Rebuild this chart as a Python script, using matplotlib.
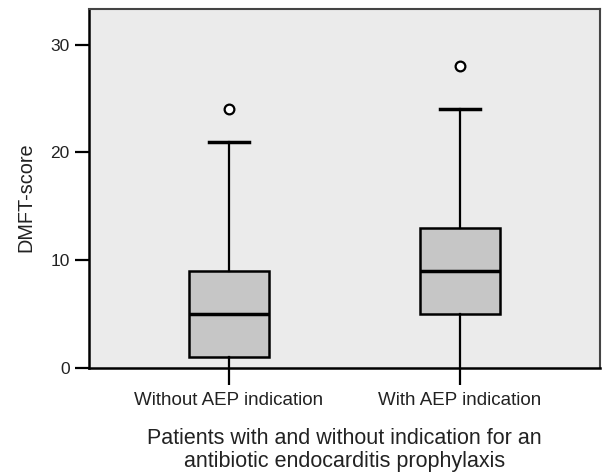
import matplotlib
matplotlib.use("Agg")
import matplotlib.pyplot as plt

categories = ["Without AEP indication", "With AEP indication"]
whisker_low = [0, 0]
q1 = [1, 5]
median = [5, 9]
q3 = [9, 13]
whisker_high = [21, 24]
outliers = [[24], [28]]
yticks = [0, 10, 20, 30]

plt.rcParams['font.family'] = ['Liberation Sans', 'DejaVu Sans']

fig = plt.figure(figsize=(6.02, 4.74), dpi=100)
ax = fig.add_axes([89/602, 1-368/474, (600-89)/602, (368-9)/474])
ax.set_facecolor('#ebebeb')

stats = []
for i in range(len(categories)):
    stats.append(dict(whislo=whisker_low[i], q1=q1[i], med=median[i], q3=q3[i],
                      whishi=whisker_high[i], fliers=outliers[i], label=categories[i]))

res = ax.bxp(stats, positions=[1, 2], widths=0.35, patch_artist=True, showfliers=True,
             boxprops=dict(facecolor='#c6c6c6', edgecolor='black', linewidth=1.8),
             medianprops=dict(color='black', linewidth=2.5),
             whiskerprops=dict(color='black', linewidth=1.6),
             capprops=dict(color='black', linewidth=2.5),
             capwidths=0.175,
             flierprops=dict(marker='o', markerfacecolor='white', markeredgecolor='black',
                             markersize=7, markeredgewidth=1.6))
# lower caps coincide with the x axis line in the reference
for cap in res['caps'][0::2]:
    cap.set_visible(False)

ax.set_xlim(0.394, 2.606)
ax.set_ylim(0, 33.3)
ax.set_yticks(yticks)
ax.tick_params(axis='y', direction='out', length=10, width=1.6, labelsize=12.5, pad=4, colors='black')
ax.tick_params(axis='x', direction='out', length=12, width=1.6, labelsize=13.5, pad=5, colors='black')
for lbl in ax.get_xticklabels() + ax.get_yticklabels():
    lbl.set_color('#222222')

ax.spines['left'].set_linewidth(1.8)
ax.spines['bottom'].set_linewidth(1.8)
ax.spines['top'].set_linewidth(1.5)
ax.spines['right'].set_linewidth(1.5)
ax.spines['top'].set_color('#444444')
ax.spines['right'].set_color('#444444')

ax.set_ylabel("DMFT-score", fontsize=14.3, color='#222222')
ax.yaxis.set_label_coords(-0.104, 0.476)
ax.set_xlabel("Patients with and without indication for an\nantibiotic endocarditis prophylaxis",
              fontsize=15.5, color='#222222', labelpad=14, linespacing=1.12)

fig.savefig("out.png", dpi=100)
